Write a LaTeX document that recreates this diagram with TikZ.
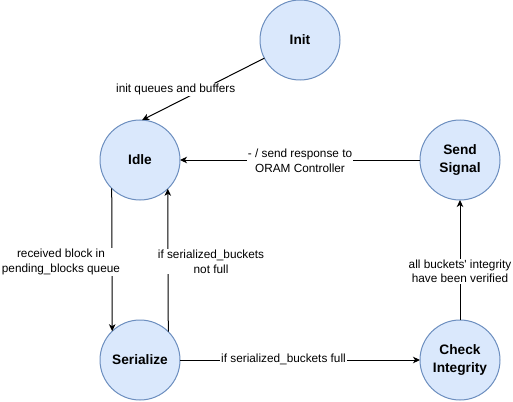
\documentclass[tikz,border=0pt]{standalone}
\usepackage{fontspec}
\setmainfont{Liberation Sans}
\usetikzlibrary{arrows.meta}
\definecolor{stfill}{HTML}{DAE8FC}
\definecolor{stdraw}{HTML}{6C8EBF}
\begin{document}
\begin{tikzpicture}[x=1pt,y=-1pt,
  state/.style={circle, draw=stdraw, fill=stfill, line width=1pt, minimum size=80pt,
    inner sep=0pt, outer sep=0pt, align=center, font=\fontsize{13.7}{17.5}\selectfont\bfseries},
  lbl/.style={fill=white, inner sep=1pt, align=center, font=\fontsize{11.8}{14.5}\selectfont},
  trans/.style={line width=1pt, draw=black, -{Stealth[length=7pt,width=6.5pt,inset=2pt]}}]
\useasboundingbox[fill=white] (0,0) rectangle (513,401);
\node[state] (init) at (300,40) {Init};
\node[state] (idle) at (140,160) {Idle};
\node[state] (ser) at (140,360) {Serialize};
\node[state] (check) at (460,360) {Check\\Integrity};
\node[state] (send) at (460,160) {Send\\Signal};
\draw[trans] (init.207) -- node[lbl, pos=0.5, xshift=-27.5pt] {init queues and buffers} (idle.87);
\draw[trans] (send.west) -- node[lbl, pos=0.5, yshift=-1pt] {- / send response to\\ORAM Controller} (idle.east);
\draw[trans] (idle.225.6) -- node[lbl, pos=0.5, xshift=-51pt, yshift=-2pt] {received block in\\pending\_blocks queue} (ser.134.4);
\draw[trans] (ser.45.6) -- node[lbl, pos=0.5, xshift=43pt, yshift=-1.5pt] {if serialized\_buckets\\not full} (idle.314.4);
\draw[trans] (ser.east) -- node[lbl, pos=0.5, xshift=-16.5pt, yshift=1pt] {if serialized\_buckets full} (check.west);
\draw[trans] (check.north) -- node[lbl, pos=0.5, yshift=-11.5pt] {all buckets\textquotesingle{} integrity\\have been verified} (send.south);
\end{tikzpicture}
\end{document}
